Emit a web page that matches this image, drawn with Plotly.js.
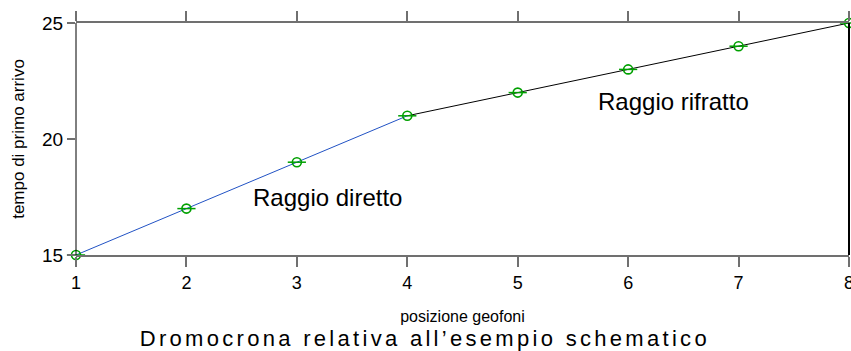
<!DOCTYPE html>
<html>
<head>
<meta charset="utf-8">
<script src="https://cdn.plot.ly/plotly-3.0.1.min.js"></script>
<style>
html,body{margin:0;padding:0;background:#fff;}
#chart{width:851px;height:351px;}
</style>
</head>
<body>
<div id="chart"></div>
<script>
// Data
const positions = [1, 2, 3, 4, 5, 6, 7, 8];
const arrivalTimes = [15, 17, 19, 21, 22, 23, 24, 25];
const directX = [1, 2, 3, 4];
const directY = [15, 17, 19, 21];
const refractedX = [4, 5, 6, 7, 8];
const refractedY = [21, 22, 23, 24, 25];
const xTicks = [1, 2, 3, 4, 5, 6, 7, 8];
const yTicks = [15, 20, 25];
const labels = [
  {text: 'Raggio diretto', x: 3.28, y: 17.5},
  {text: 'Raggio rifratto', x: 6.41, y: 21.6}
];
const chartTitle = 'Dromocrona relativa all\u2019esempio schematico';
const xTitle = 'posizione geofoni';
const yTitle = 'tempo di primo arrivo';

const FONT = 'Liberation Sans, Arial, sans-serif';
const green = '#00a000';

const traces = [
  {x: directX, y: directY, mode: 'lines', line: {color: '#2152c4', width: 1}, hoverinfo: 'skip', cliponaxis: false},
  {x: refractedX, y: refractedY, mode: 'lines', line: {color: '#000000', width: 1}, hoverinfo: 'skip', cliponaxis: false},
  {x: positions, y: arrivalTimes, mode: 'markers', marker: {symbol: 'line-ew', size: 13, color: green, line: {color: green, width: 1.5}}, cliponaxis: false},
  {x: positions, y: arrivalTimes, mode: 'markers', marker: {symbol: 'circle-open', size: 9, color: green, line: {color: green, width: 1.6}}, cliponaxis: false}
];

const layout = {
  width: 851, height: 351,
  margin: {l: 76, r: 2, t: 23, b: 96},
  paper_bgcolor: '#fff', plot_bgcolor: '#fff',
  showlegend: false,
  font: {family: FONT, color: '#000'},
  xaxis: {
    range: [1, 8], tickvals: xTicks, ticktext: xTicks.map(String),
    showgrid: false, zeroline: false,
    showline: true, linecolor: '#707070', linewidth: 2, mirror: 'ticks',
    ticks: 'outside', ticklen: 10, tickwidth: 2, tickcolor: '#707070',
    ticklabeloverflow: 'allow',
    tickfont: {size: 18, family: FONT},
    title: {text: xTitle, font: {size: 16, family: FONT}, standoff: 19}
  },
  yaxis: {
    range: [15, 25], tickvals: yTicks, ticktext: yTicks.map(String),
    showgrid: false, zeroline: false,
    showline: false,
    ticks: 'outside', ticklen: 8, tickwidth: 2, tickcolor: '#707070',
    ticklabeloverflow: 'allow',
    tickfont: {size: 19, family: FONT},
    title: {text: yTitle, font: {size: 17, family: FONT}, standoff: 13}
  },
  shapes: [
    {type: 'line', xref: 'paper', yref: 'paper', x0: 0, x1: 0, y0: 0, y1: 1, line: {color: '#000', width: 1}},
    {type: 'line', xref: 'paper', yref: 'paper', x0: 1, x1: 1, y0: 0, y1: 1, line: {color: '#000', width: 2}}
  ],
  annotations: labels.map(l => ({
    text: l.text, x: l.x, y: l.y, xref: 'x', yref: 'y', showarrow: false,
    font: {size: 24, family: FONT, color: '#000'}
  })).concat([{
    text: chartTitle, xref: 'paper', yref: 'paper', x: 0.452, y: 0, yshift: -83,
    xanchor: 'center', yanchor: 'middle', showarrow: false,
    font: {size: 22, family: FONT, color: '#000'}
  }])
};

Plotly.newPlot('chart', traces, layout, {staticPlot: true, displayModeBar: false}).then(() => {
  const anns = document.querySelectorAll('.annotation-text');
  const last = anns[anns.length - 1];
  if (last) { last.style.letterSpacing = '3.3px'; }
});
</script>
</body>
</html>
